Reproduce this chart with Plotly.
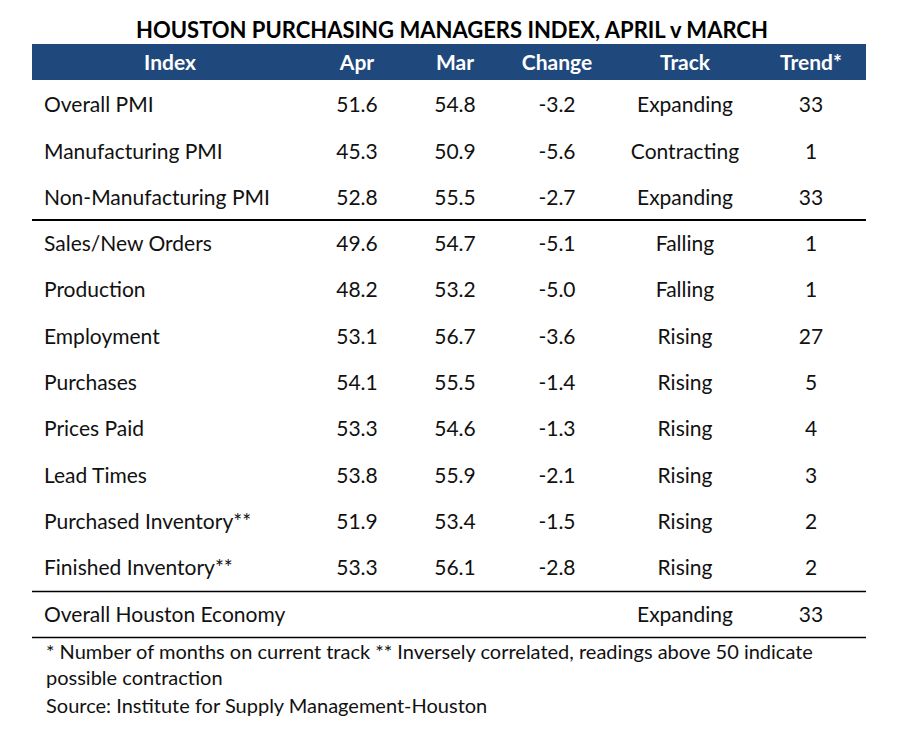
import plotly.graph_objects as go

title = "HOUSTON PURCHASING MANAGERS INDEX, APRIL v MARCH"
headers = ["Index", "Apr", "Mar", "Change", "Track", "Trend*"]
indices = ["Overall PMI", "Manufacturing PMI", "Non-Manufacturing PMI",
           "Sales/New Orders", "Production", "Employment", "Purchases",
           "Prices Paid", "Lead Times", "Purchased Inventory**",
           "Finished Inventory**", "Overall Houston Economy"]
apr = [51.6, 45.3, 52.8, 49.6, 48.2, 53.1, 54.1, 53.3, 53.8, 51.9, 53.3, None]
mar = [54.8, 50.9, 55.5, 54.7, 53.2, 56.7, 55.5, 54.6, 55.9, 53.4, 56.1, None]
change = [-3.2, -5.6, -2.7, -5.1, -5.0, -3.6, -1.4, -1.3, -2.1, -1.5, -2.8, None]
track = ["Expanding", "Contracting", "Expanding", "Falling", "Falling", "Rising",
         "Rising", "Rising", "Rising", "Rising", "Rising", "Expanding"]
trend = [33, 1, 33, 1, 1, 27, 5, 4, 3, 2, 2, 33]
footnotes = ["* Number of months on current track ** Inversely correlated, readings above 50 indicate",
             "possible contraction",
             "Source: Institute for Supply Management-Houston"]

# layout (page pixel space; page body has an 8px margin)
W, H = 908, 736
OFF = 8
FONT = "Lato"
BLUE = "#1F497D"
X0, X1 = 32, 866
ROW0, ROWH = 107, 46.3
col_x = {"Index": 44, "Apr": 357, "Mar": 455, "Change": 557, "Track": 685, "Trend*": 811}
header_index_x = 170
ys = [ROW0 + i * ROWH for i in range(len(indices))]
BODY = 21
TXT = "#111"

def fmt(v):
    return "" if v is None else f"{v:.1f}"

fig = go.Figure()

fig.add_shape(type="rect", x0=X0, x1=X1, y0=44, y1=80, fillcolor=BLUE, line_width=0, layer="below")

hx = [header_index_x] + [col_x[h] for h in headers[1:]]
fig.add_trace(go.Scatter(x=hx, y=[65] * len(headers), mode="text", text=headers,
                         textposition="middle center",
                         textfont=dict(family=FONT, size=BODY, color="white", weight="bold"),
                         hoverinfo="skip"))

fig.add_trace(go.Scatter(x=[col_x["Index"]] * len(indices), y=ys, mode="text", text=indices,
                         textposition="middle right",
                         textfont=dict(family=FONT, size=BODY, color=TXT), hoverinfo="skip"))

for key, vals in [("Apr", [fmt(v) for v in apr]), ("Mar", [fmt(v) for v in mar]),
                  ("Change", [fmt(v) for v in change]), ("Track", track),
                  ("Trend*", [str(v) for v in trend])]:
    fig.add_trace(go.Scatter(x=[col_x[key]] * len(vals), y=ys, mode="text", text=vals,
                             textposition="middle center",
                             textfont=dict(family=FONT, size=BODY, color=TXT), hoverinfo="skip"))

fig.add_shape(type="line", x0=X0, x1=X1, y0=220, y1=220, line=dict(color="black", width=2))
fig.add_shape(type="line", x0=X0, x1=X1, y0=591.5, y1=591.5, line=dict(color="black", width=1.3))
fig.add_shape(type="line", x0=X0, x1=X1, y0=637.5, y1=637.5, line=dict(color="black", width=1.3))

fig.add_annotation(x=452, y=29, xref="x", yref="y", text=f"<b>{title}</b>", showarrow=False,
                   font=dict(family=FONT, size=22, color="black"), xanchor="center", yanchor="middle")

for i, t in enumerate(footnotes):
    fig.add_annotation(x=44, y=[651, 677, 705][i], xref="x", yref="y", text=t, showarrow=False,
                       font=dict(family=FONT, size=20, color=TXT), xanchor="left", yanchor="middle")

fig.update_layout(width=W, height=H, margin=dict(l=0, r=0, t=0, b=0),
                  paper_bgcolor="white", plot_bgcolor="white", showlegend=False,
                  xaxis=dict(range=[OFF, W + OFF], visible=False, fixedrange=True),
                  yaxis=dict(range=[H + OFF, OFF], visible=False, fixedrange=True))

fig.write_html("out.html")
